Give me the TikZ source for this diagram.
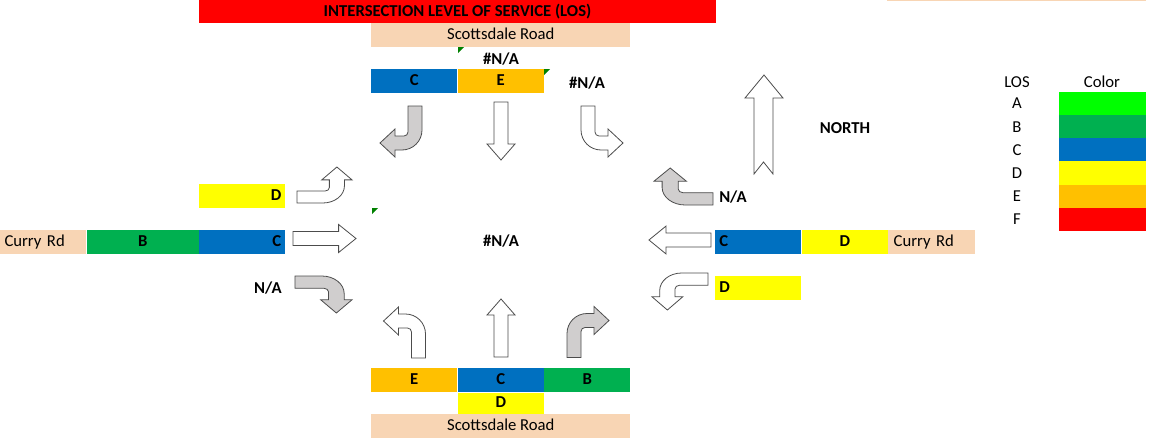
\documentclass[tikz,border=0pt]{standalone}
\usepackage{fontspec}
\setmainfont{Carlito}
\usetikzlibrary{positioning}
\definecolor{losA}{RGB}{0,255,0}
\definecolor{losB}{RGB}{0,176,80}
\definecolor{losC}{RGB}{0,112,192}
\definecolor{losD}{RGB}{255,255,0}
\definecolor{losE}{RGB}{255,192,0}
\definecolor{losF}{RGB}{255,0,0}
\definecolor{peach}{RGB}{248,213,180}
\definecolor{arrgray}{RGB}{208,206,206}
\definecolor{flag}{RGB}{0,128,0}
\tikzset{
    every node/.style={font=\fontsize{12.5}{14}\selectfont, inner sep=0pt},
    bold/.style={font=\fontsize{12.5}{14}\selectfont\bfseries},
    cell/.style={bold, minimum width=64.5pt, minimum height=18pt, text height=1.55ex, text depth=.3ex},
    cellL/.style={cell, inner xsep=3pt, text width=58.5pt, align=left},
    cellR/.style={cell, inner xsep=3pt, text width=58.5pt, align=right},
    road/.style={cell, font=\fontsize{12.5}{14}\selectfont, fill=peach, minimum width=194.25pt},
    street/.style={cellL, font=\fontsize{12.5}{14}\selectfont, fill=peach, inner xsep=4pt, text width=57.25pt},
    title/.style={bold, fill=losF, minimum width=387.75pt, minimum height=17.25pt},
    arrw/.style={draw=black!70, fill=white, line width=.6pt},
    arrg/.style={arrw, fill=arrgray},
    turnarrow/.pic={
        \draw[pic actions] (-21,-25.5) -- (-21,-1.5) arc (180:90:20) -- (6,18.5) -- (6,25.5)
            -- (21,11.5) -- (6,-2.5) -- (6,4.5) -- (-3,4.5) arc (90:180:4) -- (-7,-25.5) -- cycle;
    },
    thruarrow/.pic={
        \draw[pic actions] (-7,-29) -- (-7,13) -- (-14,13) -- (0,29) -- (14,13) -- (7,13) -- (7,-29) -- cycle;
    },
}

\begin{document}
\begin{tikzpicture}[x=0.75pt, y=0.75pt]
    \useasboundingbox (0,0) rectangle (1154,-439);

    % title and key
    \node[title] (head) at (457.5,-11.5) {INTERSECTION LEVEL OF SERVICE (LOS)};
    \fill[peach] (887,0) rectangle (1146,-1.5);
    \node (losH) at (1017,-82) {LOS};
    \node (colH) at (1102,-82) {Color};
    \foreach \g [count=\i] in {A,B,C,D,E,F} {
        \node[minimum width=65.25pt, minimum height=17.4pt, fill=los\g] (key\g) at (1102.5,-80.4-23.17*\i) {};
        \node (lab\g) at (1017,-80.4-23.17*\i) {\g};
    }

    % southbound
    \node[road, anchor=north west] (sdN) at (371,-23) {Scottsdale Road};
    \node[cell, fill=losC, anchor=north west] (sbL) at (371,-69) {C};
    \node[cell, fill=losE, right=0pt of sbL] (sbT) {E};
    \node[bold] (sbTna) at (501,-59) {\#N/A};
    \node[bold] (sbR) at (587,-83) {\#N/A};

    % northbound
    \node[cell, fill=losE, anchor=north west] (nbL) at (371,-368) {E};
    \node[cell, fill=losC, right=0pt of nbL] (nbT) {C};
    \node[cell, fill=losB, right=0pt of nbT] (nbR) {B};
    \node[cell, fill=losD, below=0pt of nbT, minimum height=16.5pt] (nbT2) {D};
    \node[road, anchor=north west] (sdS) at (371,-414) {Scottsdale Road};

    % eastbound
    \node[cellR, fill=losD, anchor=north west] (ebL) at (199,-184) {D};
    \node[cellR, fill=losC, anchor=north west] (ebT) at (199,-230) {C};
    \node[cell, fill=losB, left=0pt of ebT, minimum width=84pt] (ebT2) {B};
    \node[street, left=0pt of ebT2] (curW) {Curry Rd};
    \node[bold] (ebR) at (268,-288) {N/A};

    % westbound
    \node[cellL, fill=losC, anchor=north west] (wbT) at (715,-230) {C};
    \node[cell, fill=losD, right=0pt of wbT] (wbT2) {D};
    \node[street, right=0pt of wbT2] (curE) {Curry Rd};
    \node[cellL, fill=losD, anchor=north west] (wbL) at (715,-276) {D};
    \node[bold] (wbR) at (733,-197) {N/A};

    \node[bold] (ctr) at (501,-241) {\#N/A};
    \node[bold] (north) at (845,-128) {NORTH};

    % movement arrows
    \pic[arrg, rotate=180] at (401,-131.5) {turnarrow};
    \pic[arrw, rotate=180] at (501,-131) {thruarrow};
    \pic[arrw, yscale=-1] at (602,-131.5) {turnarrow};
    \pic[arrw, xscale=-1] at (404.5,-332.5) {turnarrow};
    \pic[arrw] at (501,-328) {thruarrow};
    \pic[arrg] at (588,-332) {turnarrow};
    \pic[arrw, xscale=1.078, yscale=0.857, xscale=-1, rotate=90] at (324.5,-185) {turnarrow};
    \pic[arrw, xscale=1.086, rotate=-90] at (324.5,-238.5) {thruarrow};
    \pic[arrg, xscale=1.118, yscale=0.881, rotate=-90] at (323.5,-294.5) {turnarrow};
    \pic[arrg, xscale=1.157, yscale=0.881, rotate=90] at (683.5,-186.5) {turnarrow};
    \pic[arrw, xscale=1.07, rotate=90] at (680,-240) {thruarrow};
    \pic[arrw, xscale=1.098, yscale=-0.881, rotate=90] at (680,-291.5) {turnarrow};

    % north arrow
    \draw[arrw] (754,-174) -- (754,-98) -- (745,-98) -- (764,-75) -- (783,-98) -- (773,-98)
        -- (773,-174) -- (763.5,-162) -- cycle;

    % error flags
    \fill[flag] (458,-47) -- (464,-47) -- (458,-53) -- cycle;
    \fill[flag] (544,-69) -- (550,-69) -- (544,-75) -- cycle;
    \fill[flag] (372,-208) -- (378,-208) -- (372,-214) -- cycle;
\end{tikzpicture}
\end{document}
